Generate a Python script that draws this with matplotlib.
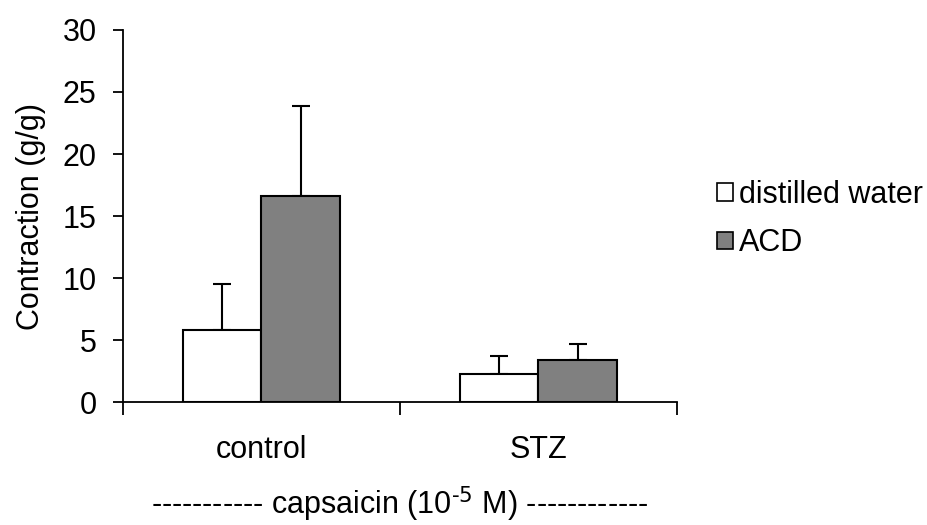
import numpy as np
import matplotlib
matplotlib.use("Agg")
from matplotlib import pyplot as plt
from matplotlib.patches import Patch

plt.rcParams['font.family'] = ['Liberation Sans', 'DejaVu Sans']

# дані
groups = ["control", "STZ"]
series = ["distilled water", "ACD"]
water = [5.8, 2.3]
water_err = [3.7, 1.45]
acd = [16.6, 3.4]
acd_err = [7.3, 1.3]
colors = ["white", "#808080"]

fs = 22

fig = plt.figure(figsize=(9.28, 5.25), dpi=100)
ax = fig.add_axes([0.1325, 0.234, 0.597, 0.709])

x = np.arange(len(groups)) + 0.5
w = 0.285
for i, (vals, errs) in enumerate([(water, water_err), (acd, acd_err)]):
    pos = x + (i - 0.5) * w
    ax.bar(pos, vals, w, color=colors[i], edgecolor="black", linewidth=1.5, zorder=2)
    ax.errorbar(pos, vals, yerr=[np.zeros(len(errs)), errs], fmt="none",
                ecolor="black", elinewidth=1.5, capsize=6.5, capthick=1.5, zorder=1)

ax.set_xlim(0, 2)
ax.set_ylim(0, 30)
ax.set_yticks(np.arange(0, 31, 5))
ax.set_xticks([0, 1, 2])
ax.set_xticklabels([])
ax.set_xticks(x, minor=True)
ax.set_xticklabels(groups, minor=True)
ax.tick_params(axis="x", which="minor", length=0, pad=24, labelsize=fs)
ax.tick_params(axis="x", which="major", length=9, width=1.3, direction="out")
ax.tick_params(axis="y", length=7, width=1.3, direction="out", labelsize=fs, pad=12)
for s in ["top", "right"]:
    ax.spines[s].set_visible(False)
for s in ["left", "bottom"]:
    ax.spines[s].set_linewidth(1.3)

ax.set_ylabel("Contraction (g/g)", fontsize=fs, labelpad=12)
ax.set_xlabel("----------- capsaicin (10$^{\\text{-5}}$ M) ------------", fontsize=fs, labelpad=14)

handles = [Patch(facecolor=colors[i], edgecolor="black", linewidth=1.2, label=series[i]) for i in range(2)]
fig.legend(handles=handles, loc="center left", bbox_to_anchor=(0.773, 0.583), frameon=False,
           borderpad=0, borderaxespad=0,
           fontsize=fs, handlelength=0.5, handleheight=0.5, handletextpad=0.2, labelspacing=0.6)

plt.savefig("out.png", dpi=100)
